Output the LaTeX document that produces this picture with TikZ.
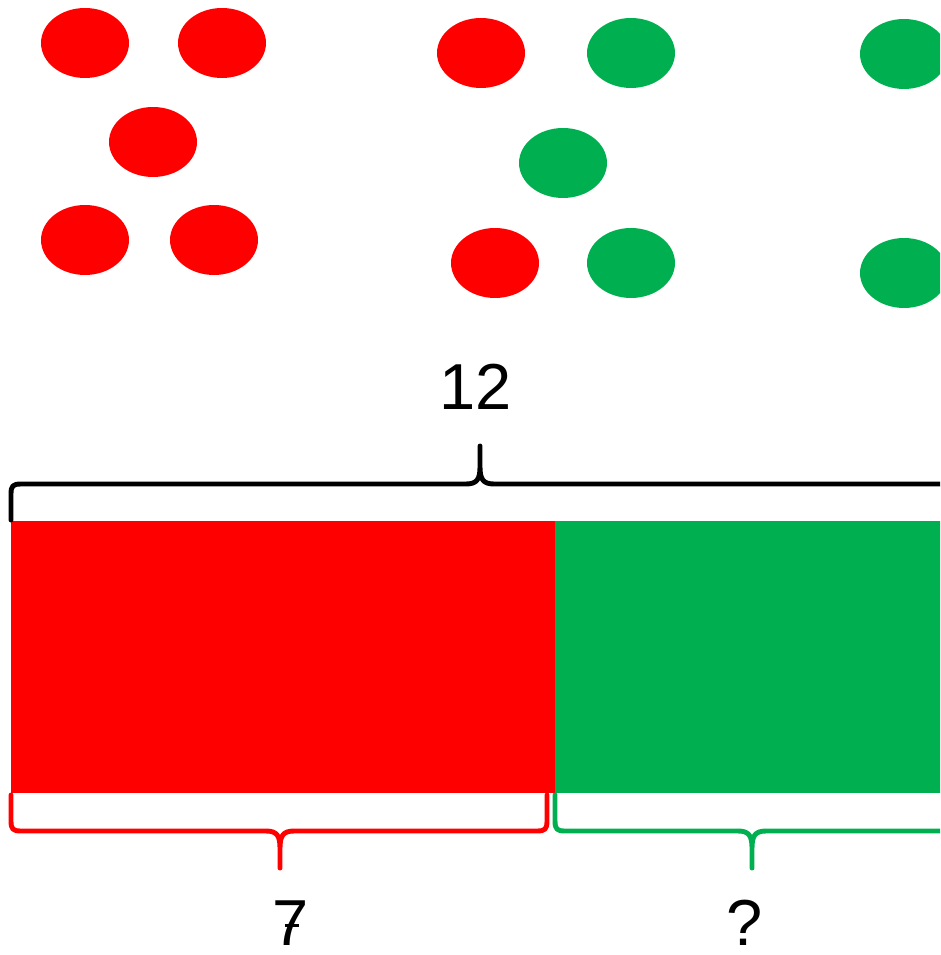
\documentclass[tikz,border=0pt]{standalone}
\usepackage{fontspec}
\setmainfont{Liberation Sans}
\usetikzlibrary{shapes.geometric}
\definecolor{redc}{HTML}{FF0000}
\definecolor{greenc}{HTML}{00B050}

\begin{document}
\begin{tikzpicture}[x=0.02cm, y=-0.02cm,
    dot/.style={ellipse, minimum width=1.76cm, minimum height=1.4cm, inner sep=0pt},
    brace/.style={line width=2.8pt, line cap=round, line join=round},
    lbl/.style={font=\fontsize{37}{40}\selectfont, inner sep=0pt}]
        \clip (0,0) rectangle (940,955);

        % counters (left group)
        \node[dot, fill=redc] (a1) at (85,43)  {};
        \node[dot, fill=redc] (a2) at (222,43) {};
        \node[dot, fill=redc] (a3) at (153,142) {};
        \node[dot, fill=redc] (a4) at (85,240) {};
        \node[dot, fill=redc] (a5) at (214,240) {};

        % counters (middle group)
        \node[dot, fill=redc]   (b1) at (481,53)  {};
        \node[dot, fill=greenc] (b2) at (631,53)  {};
        \node[dot, fill=greenc] (b3) at (563,163) {};
        \node[dot, fill=redc]   (b4) at (495,263) {};
        \node[dot, fill=greenc] (b5) at (631,263) {};

        % counters (right group, cut off)
        \node[dot, fill=greenc] (c1) at (904,54)  {};
        \node[dot, fill=greenc] (c2) at (904,273) {};

        % bar model
        \fill[redc]   (11,521)  rectangle (555,793);
        \fill[greenc] (555,521) rectangle (960,793);

        % whole brace
        \draw[brace] (11,520) -- (11,494) .. controls (11,486) and (13,484) .. (21,484)
            -- (466,484) .. controls (477,484) and (480,479) .. (480,467) -- (480,446)
            -- (480,467) .. controls (480,479) and (483,484) .. (494,484)
            -- (939,484) .. controls (947,484) and (949,486) .. (949,494) -- (949,520);
        \node[lbl] (whole) at (476,387) {12};

        % part braces
        \draw[brace, redc] (11,795) -- (11,821) .. controls (11,829) and (13,831) .. (21,831)
            -- (266,831) .. controls (277,831) and (280,836) .. (280,848) -- (280,868)
            -- (280,848) .. controls (280,836) and (283,831) .. (294,831)
            -- (537,831) .. controls (545,831) and (547,829) .. (547,821) -- (547,795);
        \draw[brace, greenc] (555,795) -- (555,821) .. controls (555,829) and (557,831) .. (565,831)
            -- (738,831) .. controls (749,831) and (752,836) .. (752,848) -- (752,868)
            -- (752,848) .. controls (752,836) and (755,831) .. (766,831)
            -- (939,831) .. controls (947,831) and (949,829) .. (949,821) -- (949,795);
        \node[lbl] (part) at (291,923) {7};
        \draw[line width=1.6pt] ([xshift=-3.5pt,yshift=-1.2pt]part.center) -- ++(8pt,0);
        \node[lbl] (rest) at (745,923) {?};
    \end{tikzpicture}
\end{document}
